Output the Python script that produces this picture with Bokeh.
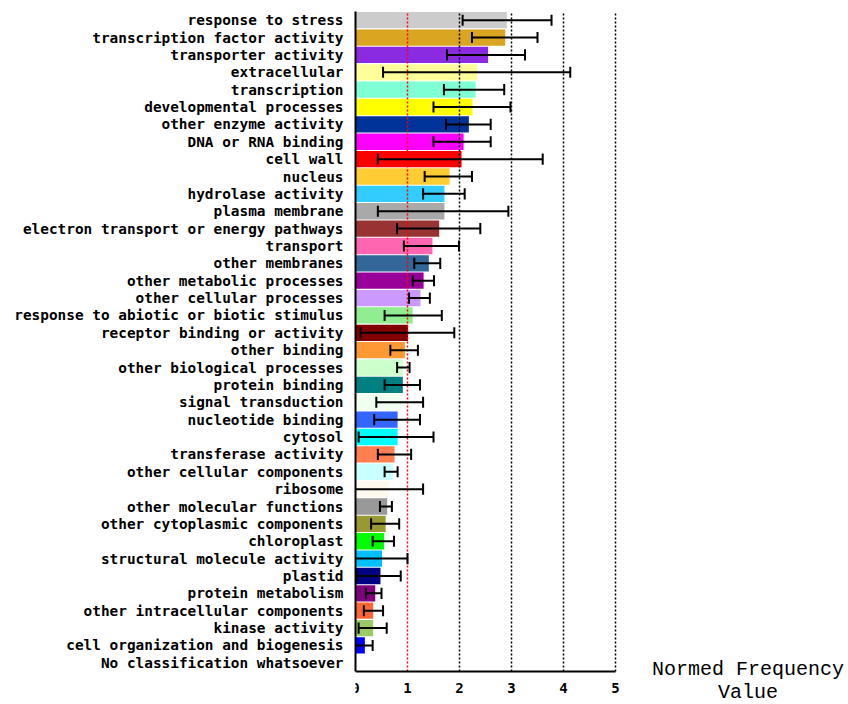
from bokeh.plotting import figure
from bokeh.models import Range1d, FixedTicker, Label, ColumnDataSource
from bokeh.embed import file_html
from bokeh.resources import INLINE

categories = [
    "response to stress", "transcription factor activity", "transporter activity",
    "extracellular", "transcription", "developmental processes", "other enzyme activity",
    "DNA or RNA binding", "cell wall", "nucleus", "hydrolase activity", "plasma membrane",
    "electron transport or energy pathways", "transport", "other membranes",
    "other metabolic processes", "other cellular processes",
    "response to abiotic or biotic stimulus", "receptor binding or activity",
    "other binding", "other biological processes", "protein binding",
    "signal transduction", "nucleotide binding", "cytosol", "transferase activity",
    "other cellular components", "ribosome", "other molecular functions",
    "other cytoplasmic components", "chloroplast", "structural molecule activity",
    "plastid", "protein metabolism", "other intracellular components",
    "kinase activity", "cell organization and biogenesis", "No classification whatsoever",
]
values = [2.91, 2.88, 2.55, 2.34, 2.31, 2.25, 2.18, 2.08, 2.04, 1.81, 1.71, 1.71,
          1.61, 1.48, 1.41, 1.31, 1.25, 1.10, 1.01, 0.95, 0.91, 0.91, 0.88, 0.81,
          0.81, 0.75, 0.72, 0.65, 0.61, 0.58, 0.55, 0.51, 0.48, 0.38, 0.34, 0.34,
          0.18, 0.0]
nan = float("nan")
err_low = [2.06, 2.24, 1.76, 0.53, 1.70, 1.50, 1.74, 1.50, 0.43, 1.33, 1.30, 0.43,
           0.80, 0.93, 1.13, 1.10, 1.03, 0.56, 0.10, 0.67, 0.80, 0.56, 0.40, 0.36,
           0.06, 0.43, 0.56, -0.03, 0.47, 0.30, 0.33, -0.02, 0.02, 0.20, 0.16, 0.06,
           -0.02, nan]
err_high = [3.77, 3.50, 3.26, 4.13, 2.86, 2.98, 2.60, 2.60, 3.60, 2.24, 2.10, 2.94,
            2.40, 1.99, 1.63, 1.51, 1.43, 1.66, 1.90, 1.20, 1.04, 1.24, 1.30, 1.24,
            1.50, 1.07, 0.81, 1.30, 0.70, 0.84, 0.74, 1.00, 0.87, 0.50, 0.53, 0.60,
            0.33, nan]
colors = ["#CCCCCC", "#DAA520", "#8A2BE2", "#FFFF99", "#7FFFD4", "#FFFF00", "#003399",
          "#FF00FF", "#FF0000", "#FFCC33", "#33CCFF", "#A9A9A9", "#993333", "#FF66B2",
          "#336699", "#990099", "#CC99FF", "#90EE90", "#800000", "#FF9933", "#CCFFCC",
          "#008080", "#F0FFF0", "#3366FF", "#00FFFF", "#FF7F50", "#CCFFFF", "#FFF8EE",
          "#999999", "#999933", "#00FF00", "#00BFFF", "#000080", "#800080", "#FF6633",
          "#99CC66", "#0000FF", "#FFFFFF"]
x_ticks = [0, 1, 2, 3, 4, 5]
grid_black = [2, 3, 4, 5]
grid_red = [1]
axis_title = ["Normed Frequency", "Value"]

n = len(categories)
ypos = [n - 1 - i for i in range(n)]
cap = 0.32

ROW_PX = 660 / n
PX_PER_UNIT = 52
FRAME_W = 493
FRAME_H = 693
y_top = n - 0.5
y_bottom = y_top - FRAME_H / ROW_PX
p = figure(
    output_backend="svg", toolbar_location=None,
    width=848, height=704,
    x_range=Range1d(0, FRAME_W / PX_PER_UNIT),
    y_range=Range1d(y_bottom, y_top),
    min_border_left=355, min_border_right=0, min_border_top=11, min_border_bottom=0,
)
p.outline_line_color = None
p.xgrid.visible = False
p.ygrid.visible = False
p.background_fill_color = "white"
p.border_fill_color = "white"

src = ColumnDataSource(dict(
    y=ypos, v=values, lo=err_low, hi=err_high, c=colors,
    ylo=[y - cap for y in ypos], yhi=[y + cap for y in ypos],
))
p.hbar(y="y", left=0, right="v", height=0.94, fill_color="c", line_color=None, source=src)

# dotted grid lines (drawn over bars)
p.segment(x0=grid_black, x1=grid_black, y0=[-0.5] * len(grid_black), y1=[y_top] * len(grid_black),
          line_color="black", line_width=1.5, line_dash="2 2")
p.segment(x0=grid_red, x1=grid_red, y0=[-0.5], y1=[y_top],
          line_color="red", line_width=1.5, line_dash="2 2")

# error bars
p.segment(x0="lo", x1="hi", y0="y", y1="y", line_color="black", line_width=2, source=src)
p.segment(x0="lo", x1="lo", y0="ylo", y1="yhi", line_color="black", line_width=2, source=src)
p.segment(x0="hi", x1="hi", y0="ylo", y1="yhi", line_color="black", line_width=2, source=src)

# axes
xa = p.xaxis[0]
xa.ticker = FixedTicker(ticks=x_ticks)
xa.bounds = (0, 5)
xa.fixed_location = -0.5
xa.axis_line_width = 2
xa.axis_line_color = "black"
xa.major_tick_line_color = None
xa.minor_tick_line_color = None
xa.major_label_text_font = "DejaVu Sans Mono"
xa.major_label_text_font_style = "bold"
xa.major_label_text_font_size = "14px"
xa.major_label_text_color = "black"
xa.major_label_standoff = 5

ya = p.yaxis[0]
ya.ticker = FixedTicker(ticks=ypos)
ya.bounds = (-0.5, y_top)
ya.major_label_overrides = {y: c for y, c in zip(ypos, categories)}
ya.axis_line_width = 2
ya.axis_line_color = "black"
ya.major_tick_line_color = None
ya.minor_tick_line_color = None
ya.major_label_text_font = "DejaVu Sans Mono"
ya.major_label_text_font_style = "bold"
ya.major_label_text_font_size = "14.4px"
ya.major_label_text_color = "black"
ya.major_label_standoff = 6

# axis value title at lower right
p.add_layout(Label(x=7.55, y=-0.39, text=axis_title[0], text_align="center",
                   text_baseline="alphabetic", text_font="Liberation Mono",
                   text_font_size="20px", text_color="black"))
p.add_layout(Label(x=7.55, y=-1.71, text=axis_title[1], text_align="center",
                   text_baseline="alphabetic", text_font="Liberation Mono",
                   text_font_size="20px", text_color="black"))

open("out.html", "w").write(file_html(p, INLINE))
